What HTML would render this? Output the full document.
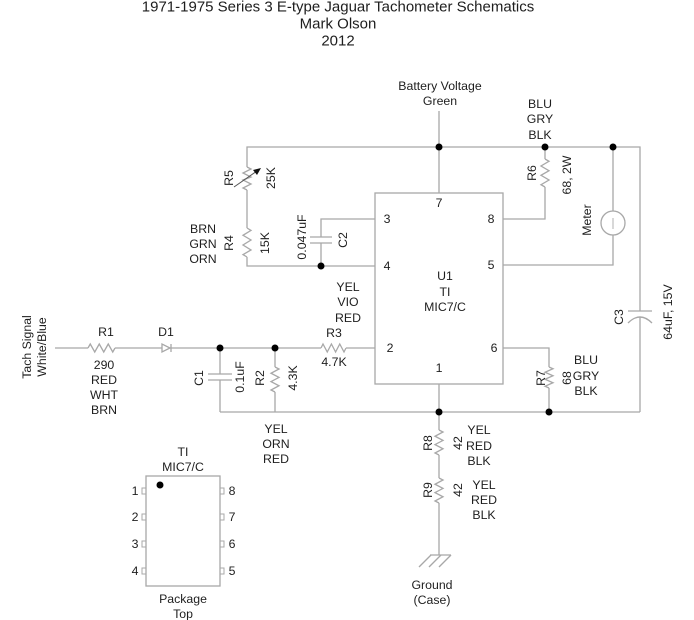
<!DOCTYPE html>
<html><head><meta charset="utf-8"><style>
html,body{margin:0;padding:0;background:#fff;}
svg{display:block;}
text{font-family:"Liberation Sans",Arial,sans-serif;fill:#1e1e1e;font-size:12.3px;}
text.t{font-size:15px;}
</style></head><body>
<svg width="694" height="620" viewBox="0 0 694 620" xmlns="http://www.w3.org/2000/svg">
<g text-anchor="middle" dominant-baseline="central">
<text class="t" x="338" y="7">1971-1975 Series 3 E-type Jaguar Tachometer Schematics</text>
<text class="t" x="338" y="24">Mark Olson</text>
<text class="t" x="338" y="41">2012</text>
</g>
<g fill="none" stroke="#a8a8a8" stroke-width="1.3">
<polyline points="247,167 247,147 640,147 640,311"/>
<line x1="640" y1="317" x2="640" y2="412"/>
<line x1="247" y1="190" x2="247" y2="228"/>
<polyline points="247,257 247,266 375,266"/>
<polyline points="247,167 251,169 243,173 251,177 243,180 251,184 243,188 247,190"/>
<polyline points="247,228 251,230.4 243,235.3 251,240 243,245 251,250 243,254.6 247,257"/>
<polyline points="375,219 321,219 321,237"/>
<line x1="321" y1="243" x2="321" y2="266"/>
<line x1="310" y1="237" x2="332" y2="237"/>
<line x1="310" y1="243" x2="332" y2="243"/>
<rect x="375" y="193" width="128" height="191"/>
<line x1="439" y1="111" x2="439" y2="193"/>
<polyline points="503,219 545,219 545,187"/>
<line x1="545" y1="147" x2="545" y2="159"/>
<polyline points="545,159 549,161.3 541,166 549,170.7 541,175.3 549,180 541,184.7 545,187"/>
<line x1="613" y1="147" x2="613" y2="211"/>
<circle cx="613" cy="223" r="12"/>
<line x1="613" y1="218" x2="613" y2="229" stroke-width="0.9"/>
<polyline points="613,235 613,265 503,265"/>
<line x1="628" y1="311" x2="652" y2="311"/>
<path d="M628,323 Q640,311 652,323"/>
<line x1="55" y1="348" x2="88" y2="348"/>
<polyline points="88,348 90.25,344 94.75,352 99.25,344 103.75,352 108.25,344 112.75,352 115,348"/>
<line x1="115" y1="348" x2="321" y2="348"/>
<polyline points="321,348 323,344 327.25,352 331.4,344 335.6,352 339.75,344 344,352 346,348"/>
<line x1="346" y1="348" x2="375" y2="348"/>
<polygon points="162,344 162,352 170,348" fill="#fff"/>
<line x1="171" y1="344" x2="171" y2="352"/>
<line x1="220" y1="348" x2="220" y2="374"/>
<line x1="220" y1="380" x2="220" y2="412"/>
<line x1="208" y1="374" x2="232" y2="374"/>
<line x1="208" y1="380" x2="232" y2="380"/>
<line x1="275" y1="348" x2="275" y2="367"/>
<polyline points="275,367 279,369 271,373.25 279,377.4 271,381.6 279,385.75 271,390 275,392"/>
<line x1="275" y1="392" x2="275" y2="412"/>
<line x1="220" y1="412" x2="640" y2="412"/>
<polyline points="503,348 549,348 549,367"/>
<polyline points="549,367 553,368.75 545,372.25 553,375.75 545,379.25 553,382.75 545,386.25 549,388"/>
<line x1="549" y1="388" x2="549" y2="412"/>
<line x1="439" y1="384" x2="439" y2="430"/>
<polyline points="439,430 443,432 435,436.25 443,440.4 435,444.6 443,448.75 435,453 439,455"/>
<line x1="439" y1="455" x2="439" y2="478"/>
<polyline points="439,478 443,480 435,484.25 443,488.4 435,492.6 443,496.75 435,501 439,503"/>
<line x1="439" y1="503" x2="439" y2="555"/>
<line x1="430" y1="555" x2="451" y2="555"/>
<line x1="431" y1="555" x2="419" y2="567"/>
<line x1="441" y1="555" x2="429" y2="567"/>
<line x1="451" y1="555" x2="439" y2="567"/>
<rect x="146" y="476" width="74" height="110"/>
<rect x="142" y="488" width="4" height="6" stroke-width="1"/>
<rect x="142" y="514" width="4" height="6" stroke-width="1"/>
<rect x="142" y="541" width="4" height="6" stroke-width="1"/>
<rect x="142" y="568" width="4" height="6" stroke-width="1"/>
<rect x="220" y="488" width="4" height="6" stroke-width="1"/>
<rect x="220" y="514" width="4" height="6" stroke-width="1"/>
<rect x="220" y="541" width="4" height="6" stroke-width="1"/>
<rect x="220" y="568" width="4" height="6" stroke-width="1"/>
</g>
<line x1="234" y1="187" x2="257" y2="171" stroke="#555" stroke-width="1"/>
<polygon points="261,168 253,170 257,175" fill="#111"/>
<g fill="#000">
<circle cx="439" cy="147" r="3.5"/>
<circle cx="545" cy="147" r="3.5"/>
<circle cx="613" cy="147" r="3.5"/>
<circle cx="321" cy="266" r="3.5"/>
<circle cx="220" cy="348" r="3.5"/>
<circle cx="275" cy="348" r="3.5"/>
<circle cx="439" cy="412" r="3.5"/>
<circle cx="549" cy="412" r="3.5"/>
<circle cx="160" cy="485" r="3.5"/>
</g>
<g text-anchor="middle" dominant-baseline="central">
<text x="440" y="86">Battery Voltage</text>
<text x="440" y="101">Green</text>
<text x="540" y="104">BLU</text>
<text x="540" y="119">GRY</text>
<text x="540" y="135">BLK</text>
<text x="203" y="229">BRN</text>
<text x="203" y="244">GRN</text>
<text x="203" y="259">ORN</text>
<text x="439" y="203">7</text>
<text x="387" y="219">3</text>
<text x="387" y="266">4</text>
<text x="491" y="219">8</text>
<text x="491" y="265">5</text>
<text x="390" y="348">2</text>
<text x="494" y="348">6</text>
<text x="439" y="368">1</text>
<text x="445" y="276">U1</text>
<text x="445" y="292">TI</text>
<text x="445" y="307">MIC7/C</text>
<text x="348" y="287">YEL</text>
<text x="348" y="302">VIO</text>
<text x="348" y="318">RED</text>
<text x="334" y="333">R3</text>
<text x="334" y="362">4.7K</text>
<text x="106" y="332">R1</text>
<text x="104" y="365">290</text>
<text x="104" y="380">RED</text>
<text x="104" y="395">WHT</text>
<text x="104" y="410">BRN</text>
<text x="166" y="332">D1</text>
<text x="276" y="429">YEL</text>
<text x="276" y="444">ORN</text>
<text x="276" y="459">RED</text>
<text x="586" y="360">BLU</text>
<text x="586" y="376">GRY</text>
<text x="586" y="391">BLK</text>
<text x="479" y="430">YEL</text>
<text x="479" y="446">RED</text>
<text x="479" y="461">BLK</text>
<text x="484" y="485">YEL</text>
<text x="484" y="500">RED</text>
<text x="484" y="515">BLK</text>
<text x="432" y="585">Ground</text>
<text x="432" y="600">(Case)</text>
<text x="183" y="452">TI</text>
<text x="183" y="467">MIC7/C</text>
<text x="183" y="599">Package</text>
<text x="183" y="614">Top</text>
<text x="135" y="491">1</text>
<text x="135" y="517">2</text>
<text x="135" y="544">3</text>
<text x="135" y="571">4</text>
<text x="232" y="491">8</text>
<text x="232" y="517">7</text>
<text x="232" y="544">6</text>
<text x="232" y="571">5</text>
<text x="229" y="178" transform="rotate(-90 229 178)">R5</text>
<text x="271" y="178" transform="rotate(-90 271 178)">25K</text>
<text x="229" y="243" transform="rotate(-90 229 243)">R4</text>
<text x="265" y="243" transform="rotate(-90 265 243)">15K</text>
<text x="302" y="237" transform="rotate(-90 302 237)">0.047uF</text>
<text x="343" y="240" transform="rotate(-90 343 240)">C2</text>
<text x="532" y="173" transform="rotate(-90 532 173)">R6</text>
<text x="567" y="175" transform="rotate(-90 567 175)">68, 2W</text>
<text x="587" y="220" transform="rotate(-90 587 220)">Meter</text>
<text x="619" y="317" transform="rotate(-90 619 317)">C3</text>
<text x="668" y="312" transform="rotate(-90 668 312)">64uF, 15V</text>
<text x="541" y="378" transform="rotate(-90 541 378)">R7</text>
<text x="567" y="378" transform="rotate(-90 567 378)">68</text>
<text x="260" y="378" transform="rotate(-90 260 378)">R2</text>
<text x="293" y="378" transform="rotate(-90 293 378)">4.3K</text>
<text x="199" y="378" transform="rotate(-90 199 378)">C1</text>
<text x="240" y="377" transform="rotate(-90 240 377)">0.1uF</text>
<text x="428" y="443" transform="rotate(-90 428 443)">R8</text>
<text x="458" y="443" transform="rotate(-90 458 443)">42</text>
<text x="428" y="490" transform="rotate(-90 428 490)">R9</text>
<text x="458" y="490" transform="rotate(-90 458 490)">42</text>
<text x="27" y="347" transform="rotate(-90 27 347)">Tach Signal</text>
<text x="42" y="347" transform="rotate(-90 42 347)">White/Blue</text>
</g>
</svg>
</body></html>
